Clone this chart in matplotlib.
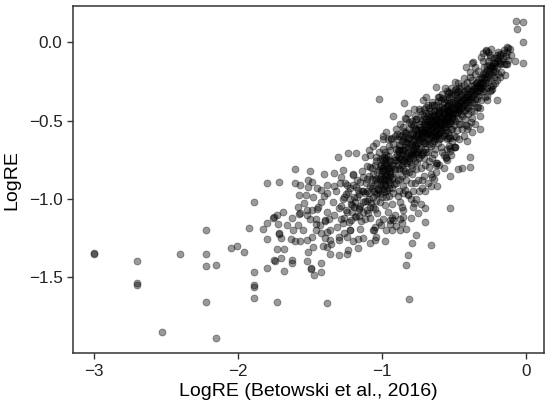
import matplotlib
matplotlib.use("Agg")
import matplotlib.pyplot as plt
import numpy as np

plt.rcParams['font.family'] = ['Liberation Sans', 'DejaVu Sans']

# sparse points on the far left (read one by one)
tail = [(-3.00, -1.345), (-3.00, -1.352), (-2.70, -1.394), (-2.70, -1.538), (-2.70, -1.550),
        (-2.526, -1.851), (-2.40, -1.349), (-2.222, -1.198), (-2.222, -1.349), (-2.222, -1.428),
        (-2.222, -1.655), (-2.155, -1.421), (-2.155, -1.889), (-2.049, -1.313), (-2.003, -1.300),
        (-1.958, -1.336), (-1.924, -1.187), (-1.887, -1.017), (-1.887, -1.468), (-1.887, -1.549),
        (-1.887, -1.560), (-1.887, -1.634), (-1.824, -1.193), (-1.801, -0.896), (-1.799, -1.151),
        (-1.799, -1.257), (-1.799, -1.442), (-1.750, -1.117), (-1.750, -1.389), (-1.727, -1.659),
        (-1.713, -0.890)]

# left half of the cloud
mid = [(-1.303, -0.730), (-1.232, -0.705), (-1.176, -0.705), (-1.118, -0.730), (-1.604, -0.809),
       (-1.500, -0.819), (-1.604, -0.900), (-1.565, -0.911), (-1.510, -0.879), (-1.488, -0.893),
       (-1.510, -0.921), (-1.401, -0.842), (-1.331, -0.836), (-1.572, -0.975), (-1.528, -0.975),
       (-1.542, -1.024), (-1.419, -0.943), (-1.384, -0.911), (-1.384, -0.964), (-1.424, -1.017),
       (-1.685, -1.085), (-1.727, -1.102), (-1.755, -1.119), (-1.720, -1.160), (-1.623, -1.119),
       (-1.658, -1.166), (-1.572, -1.098), (-1.568, -1.092), (-1.581, -1.166), (-1.620, -1.198),
       (-1.717, -1.217), (-1.712, -1.225), (-1.701, -1.251), (-1.634, -1.257), (-1.604, -1.268),
       (-1.565, -1.266), (-1.523, -1.262), (-1.488, -1.244), (-1.523, -1.070), (-1.488, -1.070),
       (-1.449, -1.066), (-1.500, -1.130), (-1.458, -1.130), (-1.458, -1.198), (-1.396, -1.138),
       (-1.392, -1.132), (-1.431, -1.166), (-1.384, -1.209), (-1.361, -1.262), (-1.396, -1.251),
       (-1.384, -1.304), (-1.481, -1.304), (-1.512, -1.336), (-1.361, -1.353), (-1.297, -1.359),
       (-1.245, -1.353), (-1.234, -1.326), (-1.297, -1.262), (-1.245, -1.241), (-1.222, -1.198),
       (-1.165, -1.257), (-1.165, -1.315), (-1.727, -1.319), (-1.681, -1.319), (-1.745, -1.396),
       (-1.703, -1.378), (-1.623, -1.389), (-1.623, -1.407), (-1.523, -1.396), (-1.424, -1.407),
       (-1.681, -1.460), (-1.493, -1.447), (-1.490, -1.440), (-1.472, -1.485), (-1.424, -1.468),
       (-1.380, -1.666), (-1.27, -0.815), (-1.20, -0.847), (-1.257, -0.90), (-1.176, -0.921),
       (-1.13, -0.858), (-1.083, -0.794), (-1.037, -0.730)]

# isolated points around the band
edge = [(-0.069, 0.138), (-0.018, 0.132), (-0.058, 0.083), (-0.018, 0.004), (-0.127, -0.032),
        (-0.122, -0.036), (-0.074, -0.117), (-0.017, -0.134), (-0.130, -0.138), (-0.197, -0.368),
        (-1.021, -0.362), (-0.845, -0.389), (-0.922, -0.470), (-0.389, -0.730), (-0.442, -0.804),
        (-0.389, -0.794), (-0.528, -0.851), (-0.528, -1.059), (-0.655, -1.294), (-0.817, -1.357),
        (-0.813, -1.638), (-0.701, -1.145), (-0.697, -1.059), (-0.760, -1.230), (-0.787, -1.279),
        (-0.278, -0.054), (-0.308, -0.092), (-0.245, -0.092), (-0.370, -0.134), (-0.181, -0.130),
        (-0.139, -0.138), (-0.192, -0.204), (-0.232, -0.300), (-0.829, -0.491), (-0.773, -0.428),
        (-0.741, -0.428), (-0.708, -0.428), (-0.690, -0.351), (-0.764, -0.491), (-0.602, -0.347),
        (-0.540, -0.325), (-0.319, -0.421), (-0.269, -0.368), (-0.412, -0.528), (-0.482, -0.602),
        (-0.500, -0.666), (-0.528, -0.676), (-0.556, -0.740), (-0.616, -0.772), (-0.616, -0.917),
        (-0.655, -0.917), (-0.720, -0.932), (-0.648, -0.858), (-0.674, -0.798), (-0.625, -0.768),
        (-0.551, -0.734), (-0.528, -0.694), (-0.470, -0.811), (-0.817, -0.974), (-0.778, -1.027),
        (-0.748, -1.091), (-0.852, -1.113), (-0.922, -1.134), (-0.859, -1.151), (-0.991, -0.619),
        (-0.933, -0.619), (-0.968, -0.571), (-0.482, -0.298), (-0.829, -1.421), (-0.875, -1.198),
        (-0.852, -0.964), (-1.002, -1.166), (-0.940, -1.134), (-1.056, -1.198), (-1.049, -1.262),
        (-0.713, -0.368), (-0.62, -0.283), (-0.563, -0.294), (-0.493, -0.251), (-0.412, -0.156),
        (-0.366, -0.124), (-0.30, -0.07), (-0.274, -0.049), (-0.25, -0.081), (-0.146, -0.209),
        (-0.239, -0.304), (-0.40, -0.534), (-0.493, -0.666), (-0.528, -0.613)]

# dense band, x from -1.6 to -0.1
band = [(-1.34, -1.02), (-1.33, -1.10), (-1.32, -0.95), (-1.31, -1.18), (-1.30, -1.06), (-1.29, -0.90),
        (-1.28, -1.13), (-1.27, -1.00), (-1.26, -1.22), (-1.25, -0.97), (-1.24, -1.08), (-1.23, -1.15),
        (-1.22, -0.93), (-1.21, -1.04), (-1.20, -1.27), (-1.19, -0.99), (-1.18, -1.11), (-1.17, -0.88),
        (-1.16, -1.06), (-1.15, -1.19), (-1.14, -0.95), (-1.13, -1.02), (-1.12, -1.13), (-1.11, -0.90),
        (-1.10, -1.07), (-1.36, -1.20), (-1.38, -1.08), (-1.40, -0.98), (-1.42, -1.22), (-1.44, -1.05),
        (-1.46, -1.16), (-1.48, -0.99), (-1.35, -1.29), (-1.30, -1.24), (-1.26, -1.12), (-1.22, -1.20),
        (-1.19, -1.05), (-1.16, -0.97), (-1.13, -1.25), (-1.28, -0.86), (-1.24, -0.91), (-1.20, -0.84),
        (-1.14, -0.82), (-1.33, -0.92), (-1.37, -1.13), (-1.41, -1.30), (-1.45, -0.93), (-1.52, -1.10),
        (-1.55, -1.20), (-1.58, -1.05),
        (-1.09, -0.85), (-1.09, -1.00), (-1.08, -0.72), (-1.08, -1.12), (-1.07, -0.93), (-1.07, -0.80),
        (-1.06, -1.05), (-1.06, -0.66), (-1.05, -0.88), (-1.05, -1.18), (-1.04, -0.97), (-1.04, -0.76),
        (-1.03, -1.09), (-1.03, -0.83), (-1.02, -0.70), (-1.02, -0.94), (-1.01, -1.02), (-1.01, -0.79),
        (-1.00, -0.87), (-1.00, -0.74), (-1.00, -0.99), (-0.99, -0.82), (-0.99, -1.13), (-0.99, -0.68),
        (-0.98, -0.91), (-0.98, -0.77), (-0.98, -1.04), (-0.97, -0.85), (-0.97, -0.95), (-0.97, -0.72),
        (-0.96, -0.80), (-0.96, -1.08), (-0.96, -0.62), (-0.95, -0.89), (-0.95, -0.75), (-0.95, -0.98),
        (-0.94, -0.83), (-0.94, -1.16), (-0.94, -0.69), (-0.93, -0.93), (-0.93, -0.78), (-0.93, -1.03),
        (-0.92, -0.86), (-0.92, -0.65), (-0.92, -0.96), (-0.91, -0.73), (-0.91, -1.10), (-0.91, -0.81),
        (-0.90, -0.90), (-0.90, -0.68), (-1.00, -0.80), (-0.99, -0.90), (-0.98, -0.84), (-0.97, -0.78),
        (-0.96, -0.88), (-0.95, -0.82), (-0.99, -0.75), (-1.01, -0.92), (-0.97, -0.99), (-0.94, -0.76),
        (-1.03, -0.96), (-1.05, -0.78), (-1.07, -0.87), (-1.02, -0.87), (-0.98, -0.70), (-0.95, -0.93),
        (-1.04, -1.01), (-1.06, -0.92), (-1.08, -1.05), (-1.10, -0.95), (-1.10, -0.79), (-1.09, -0.69),
        (-1.06, -1.20), (-1.02, -1.15), (-0.97, -1.20), (-0.93, -1.12), (-1.04, -0.64), (-0.99, -0.60),
        (-0.95, -0.66), (-0.91, -0.60),
        (-0.89, -0.76), (-0.89, -0.88), (-0.89, -0.62), (-0.88, -0.70), (-0.88, -0.95), (-0.88, -0.81),
        (-0.87, -0.66), (-0.87, -0.74), (-0.87, -1.02), (-0.86, -0.85), (-0.86, -0.59), (-0.86, -0.78),
        (-0.85, -0.69), (-0.85, -0.92), (-0.85, -0.54), (-0.84, -0.73), (-0.84, -0.82), (-0.84, -0.63),
        (-0.83, -0.77), (-0.83, -0.88), (-0.83, -0.57), (-0.82, -0.67), (-0.82, -0.97), (-0.82, -0.74),
        (-0.81, -0.61), (-0.81, -0.83), (-0.81, -0.70), (-0.80, -0.52), (-0.80, -0.78), (-0.80, -0.65),
        (-0.80, -0.90), (-0.79, -0.72), (-0.79, -0.58), (-0.79, -0.84), (-0.78, -0.63), (-0.78, -0.69),
        (-0.78, -0.95), (-0.77, -0.55), (-0.77, -0.76), (-0.77, -0.66), (-0.76, -0.81), (-0.76, -0.60),
        (-0.76, -0.49), (-0.75, -0.70), (-0.75, -0.64), (-0.75, -0.88), (-0.74, -0.57), (-0.74, -0.74),
        (-0.74, -0.52), (-0.73, -0.67), (-0.73, -0.80), (-0.73, -0.61), (-0.72, -0.55), (-0.72, -0.71),
        (-0.72, -0.46), (-0.71, -0.64), (-0.71, -0.58), (-0.71, -0.85), (-0.70, -0.68), (-0.70, -0.51),
        (-0.88, -0.73), (-0.86, -0.69), (-0.84, -0.67), (-0.83, -0.71), (-0.82, -0.62), (-0.81, -0.76),
        (-0.79, -0.66), (-0.78, -0.59), (-0.77, -0.71), (-0.76, -0.65), (-0.75, -0.56), (-0.74, -0.62),
        (-0.73, -0.56), (-0.72, -0.63), (-0.71, -0.52), (-0.70, -0.60), (-0.87, -0.80), (-0.85, -0.76),
        (-0.83, -0.64), (-0.80, -0.71), (-0.78, -0.74), (-0.76, -0.70), (-0.74, -0.68), (-0.72, -0.59),
        (-0.70, -0.56), (-0.89, -0.69), (-0.86, -0.63), (-0.84, -0.58), (-0.81, -0.55), (-0.79, -0.50),
        (-0.77, -0.61), (-0.75, -0.60), (-0.73, -0.50), (-0.71, -0.47), (-0.89, -0.98), (-0.86, -1.05),
        (-0.84, -0.94), (-0.80, -1.00), (-0.77, -0.90), (-0.74, -0.95), (-0.72, -0.88), (-0.90, -0.55),
        (-0.87, -0.52), (-0.84, -0.48), (-0.82, -0.45), (-0.88, -0.60), (-0.85, -0.62), (-0.78, -0.54),
        (-0.76, -0.55), (-0.73, -0.72), (-0.71, -0.74), (-0.70, -0.78),
        (-0.69, -0.54), (-0.69, -0.63), (-0.69, -0.45), (-0.68, -0.58), (-0.68, -0.70), (-0.68, -0.50),
        (-0.67, -0.61), (-0.67, -0.53), (-0.67, -0.42), (-0.66, -0.56), (-0.66, -0.66), (-0.66, -0.48),
        (-0.65, -0.59), (-0.65, -0.51), (-0.65, -0.74), (-0.64, -0.54), (-0.64, -0.44), (-0.64, -0.63),
        (-0.63, -0.57), (-0.63, -0.49), (-0.63, -0.68), (-0.62, -0.52), (-0.62, -0.40), (-0.62, -0.60),
        (-0.61, -0.55), (-0.61, -0.46), (-0.61, -0.64), (-0.60, -0.50), (-0.60, -0.58), (-0.60, -0.43),
        (-0.59, -0.53), (-0.59, -0.37), (-0.59, -0.61), (-0.58, -0.47), (-0.58, -0.56), (-0.58, -0.70),
        (-0.57, -0.50), (-0.57, -0.42), (-0.57, -0.59), (-0.56, -0.45), (-0.56, -0.54), (-0.56, -0.36),
        (-0.55, -0.48), (-0.55, -0.62), (-0.55, -0.41), (-0.54, -0.52), (-0.54, -0.44), (-0.54, -0.57),
        (-0.53, -0.39), (-0.53, -0.47), (-0.53, -0.66), (-0.52, -0.50), (-0.52, -0.42), (-0.52, -0.33),
        (-0.51, -0.46), (-0.51, -0.55), (-0.51, -0.38), (-0.50, -0.43), (-0.50, -0.49), (-0.50, -0.60),
        (-0.69, -0.58), (-0.68, -0.47), (-0.67, -0.57), (-0.66, -0.52), (-0.65, -0.47), (-0.64, -0.58),
        (-0.63, -0.53), (-0.62, -0.56), (-0.61, -0.50), (-0.60, -0.54), (-0.59, -0.48), (-0.58, -0.52),
        (-0.57, -0.46), (-0.56, -0.50), (-0.55, -0.44), (-0.54, -0.48), (-0.53, -0.43), (-0.52, -0.46),
        (-0.51, -0.42), (-0.50, -0.39), (-0.69, -0.49), (-0.67, -0.46), (-0.66, -0.44), (-0.64, -0.40),
        (-0.63, -0.44), (-0.62, -0.47), (-0.60, -0.46), (-0.59, -0.44), (-0.58, -0.41), (-0.57, -0.38),
        (-0.55, -0.37), (-0.54, -0.40), (-0.53, -0.35), (-0.51, -0.34), (-0.68, -0.62), (-0.66, -0.60),
        (-0.65, -0.64), (-0.63, -0.62), (-0.61, -0.59), (-0.60, -0.62), (-0.58, -0.60), (-0.56, -0.58),
        (-0.54, -0.61), (-0.52, -0.55), (-0.50, -0.53), (-0.69, -0.70), (-0.67, -0.76), (-0.64, -0.71),
        (-0.62, -0.78), (-0.59, -0.67), (-0.57, -0.72), (-0.55, -0.68), (-0.53, -0.60), (-0.51, -0.63),
        (-0.68, -0.40), (-0.65, -0.38), (-0.61, -0.35), (-0.58, -0.33), (-0.55, -0.31), (-0.52, -0.29),
        (-0.66, -0.55), (-0.64, -0.50), (-0.62, -0.49), (-0.60, -0.41), (-0.57, -0.54), (-0.55, -0.52),
        (-0.53, -0.50), (-0.51, -0.48),
        (-0.49, -0.41), (-0.49, -0.50), (-0.49, -0.33), (-0.48, -0.45), (-0.48, -0.37), (-0.48, -0.56),
        (-0.47, -0.40), (-0.47, -0.31), (-0.47, -0.48), (-0.46, -0.43), (-0.46, -0.35), (-0.46, -0.52),
        (-0.45, -0.38), (-0.45, -0.28), (-0.45, -0.46), (-0.44, -0.41), (-0.44, -0.33), (-0.44, -0.55),
        (-0.43, -0.36), (-0.43, -0.44), (-0.43, -0.27), (-0.42, -0.39), (-0.42, -0.31), (-0.42, -0.49),
        (-0.41, -0.35), (-0.41, -0.42), (-0.41, -0.25), (-0.40, -0.37), (-0.40, -0.30), (-0.40, -0.46),
        (-0.39, -0.33), (-0.39, -0.40), (-0.39, -0.22), (-0.38, -0.35), (-0.38, -0.28), (-0.38, -0.51),
        (-0.37, -0.31), (-0.37, -0.38), (-0.37, -0.24), (-0.36, -0.33), (-0.36, -0.27), (-0.36, -0.44),
        (-0.35, -0.29), (-0.35, -0.36), (-0.35, -0.20), (-0.34, -0.31), (-0.34, -0.25), (-0.34, -0.41),
        (-0.33, -0.28), (-0.33, -0.34), (-0.33, -0.18), (-0.32, -0.26), (-0.32, -0.32), (-0.32, -0.47),
        (-0.31, -0.23), (-0.31, -0.29), (-0.31, -0.37), (-0.30, -0.25), (-0.30, -0.20), (-0.30, -0.31),
        (-0.49, -0.45), (-0.48, -0.40), (-0.47, -0.44), (-0.46, -0.38), (-0.45, -0.42), (-0.44, -0.37),
        (-0.43, -0.40), (-0.42, -0.35), (-0.41, -0.38), (-0.40, -0.33), (-0.39, -0.36), (-0.38, -0.31),
        (-0.37, -0.34), (-0.36, -0.30), (-0.35, -0.32), (-0.34, -0.28), (-0.33, -0.31), (-0.32, -0.29),
        (-0.31, -0.26), (-0.30, -0.28), (-0.48, -0.32), (-0.46, -0.29), (-0.44, -0.47), (-0.42, -0.43),
        (-0.40, -0.41), (-0.38, -0.44), (-0.36, -0.39), (-0.34, -0.36), (-0.45, -0.52), (-0.41, -0.55),
        (-0.37, -0.48), (-0.33, -0.41), (-0.47, -0.26), (-0.43, -0.23), (-0.39, -0.19), (-0.35, -0.16),
        (-0.29, -0.23), (-0.29, -0.30), (-0.28, -0.19), (-0.28, -0.26), (-0.28, -0.35), (-0.27, -0.22),
        (-0.27, -0.15), (-0.27, -0.29), (-0.26, -0.20), (-0.26, -0.25), (-0.26, -0.12), (-0.25, -0.18),
        (-0.25, -0.23), (-0.25, -0.31), (-0.24, -0.16), (-0.24, -0.21), (-0.23, -0.13), (-0.23, -0.19),
        (-0.23, -0.27), (-0.22, -0.15), (-0.22, -0.10), (-0.22, -0.22), (-0.21, -0.13), (-0.21, -0.18),
        (-0.20, -0.08), (-0.20, -0.16), (-0.20, -0.24), (-0.19, -0.11), (-0.19, -0.06), (-0.18, -0.14),
        (-0.18, -0.09), (-0.17, -0.12), (-0.17, -0.19), (-0.16, -0.07), (-0.16, -0.10), (-0.15, -0.05),
        (-0.15, -0.14), (-0.14, -0.09), (-0.13, -0.06), (-0.12, -0.11), (-0.11, -0.04), (-0.10, -0.08),
        (-0.26, -0.06), (-0.24, -0.04), (-0.30, -0.12), (-0.29, -0.16), (-0.21, -0.26), (-0.18, -0.22),
        (-0.24, -0.28), (-0.27, -0.34)]

# more points in the darkest part of the band
core = [(-1.235, -0.955), (-1.212, -1.032), (-1.198, -0.912), (-1.187, -1.118), (-1.173, -0.986),
        (-1.161, -1.064), (-1.152, -0.893), (-1.143, -1.142), (-1.128, -0.946), (-1.117, -1.013),
        (-1.105, -0.874), (-1.097, -1.087), (-1.086, -0.962), (-1.074, -1.024), (-1.063, -0.838),
        (-1.052, -0.951), (-1.044, -1.066), (-1.033, -0.897), (-1.021, -0.812), (-1.013, -0.968),
        (-1.006, -0.853), (-0.994, -0.936), (-0.985, -0.792), (-0.976, -0.881), (-0.964, -0.944),
        (-0.957, -0.727), (-0.948, -0.857), (-0.936, -0.804), (-0.927, -0.871), (-0.918, -0.752),
        (-0.906, -0.836), (-0.897, -0.714), (-0.886, -0.783), (-0.877, -0.655), (-0.865, -0.742),
        (-0.856, -0.811), (-0.847, -0.686), (-0.838, -0.602), (-0.826, -0.725), (-0.817, -0.648),
        (-0.806, -0.583), (-0.797, -0.694), (-0.788, -0.618), (-0.776, -0.527), (-0.768, -0.655),
        (-0.757, -0.583), (-0.746, -0.712), (-0.737, -0.538), (-0.726, -0.604), (-0.717, -0.492),
        (-0.706, -0.566), (-0.697, -0.642), (-0.688, -0.522), (-0.676, -0.588), (-0.667, -0.483),
        (-0.656, -0.541), (-0.647, -0.612), (-0.638, -0.463), (-0.626, -0.525), (-0.617, -0.578),
        (-0.606, -0.442), (-0.597, -0.506), (-0.586, -0.547), (-0.577, -0.424), (-0.566, -0.483),
        (-0.557, -0.562), (-0.546, -0.407), (-0.537, -0.462), (-0.526, -0.518), (-0.516, -0.392),
        (-0.505, -0.448), (-0.494, -0.372), (-0.484, -0.426), (-0.474, -0.357), (-0.463, -0.404),
        (-0.452, -0.336), (-0.442, -0.385), (-0.432, -0.318), (-0.421, -0.366), (-0.411, -0.298),
        (-0.402, -0.347), (-0.915, -0.905), (-0.873, -0.872), (-0.834, -0.836), (-0.792, -0.802),
        (-0.753, -0.765), (-0.713, -0.702), (-0.672, -0.652), (-0.633, -0.596), (-0.592, -0.572),
        (-0.553, -0.512), (-0.512, -0.478), (-0.472, -0.428), (-0.935, -0.612), (-0.893, -0.586),
        (-0.853, -0.566), (-0.813, -0.511), (-0.772, -0.472), (-0.732, -0.441), (-0.692, -0.412),
        (-0.652, -0.397), (-0.612, -0.372), (-0.572, -0.356), (-0.532, -0.318), (-0.492, -0.302),
        (-0.663, -0.503), (-0.642, -0.532), (-0.621, -0.487), (-0.602, -0.522), (-0.582, -0.476),
        (-0.561, -0.491), (-0.542, -0.452), (-0.523, -0.436), (-0.703, -0.532), (-0.682, -0.562),
        (-0.722, -0.581), (-0.742, -0.624), (-0.762, -0.676), (-0.783, -0.708), (-0.803, -0.738),
        (-0.822, -0.771), (-0.843, -0.756), (-0.862, -0.712), (-0.881, -0.688), (-0.902, -0.752),
        (-0.923, -0.792), (-0.943, -0.846), (-0.963, -0.838), (-0.983, -0.866), (-1.003, -0.912),
        (-1.023, -0.936), (-1.043, -0.874), (-1.064, -0.987), (-1.084, -0.916), (-1.104, -1.012),
        (-1.012, -0.742), (-1.004, -0.781), (-0.996, -0.823), (-0.988, -0.958), (-0.979, -0.905),
        (-0.971, -0.746), (-0.962, -0.772), (-0.953, -0.803), (-0.944, -0.902), (-0.986, -0.732),
        (-1.015, -0.868), (-0.975, -0.812), (-1.285, -1.045), (-1.262, -0.985), (-1.247, -1.068),
        (-1.223, -1.003), (-1.205, -1.084), (-1.183, -1.022), (-1.166, -0.942), (-1.148, -1.043),
        (-1.132, -1.082), (-1.115, -0.962), (-1.271, -1.152), (-1.214, -1.131), (-1.158, -1.108),
        (-0.345, -0.262), (-0.322, -0.236), (-0.303, -0.218), (-0.285, -0.205), (-0.266, -0.178),
        (-0.248, -0.162), (-0.232, -0.148), (-0.214, -0.124), (-0.196, -0.097), (-0.178, -0.074),
        (-0.315, -0.272), (-0.275, -0.238), (-0.255, -0.142), (-0.226, -0.172)]

# scattered points just below the band
below = [(-1.08, -1.28), (-1.04, -1.24), (-0.98, -1.27), (-0.93, -1.20), (-0.90, -1.17), (-0.87, -1.13),
         (-0.85, -1.07), (-0.83, -1.19), (-0.80, -1.12), (-0.78, -1.05), (-0.76, -1.00), (-0.73, -1.03),
         (-0.70, -0.95), (-0.68, -0.90), (-0.66, -0.84), (-0.64, -0.87), (-0.62, -0.83), (-0.60, -0.78),
         (-0.57, -0.80), (-0.55, -0.75), (-0.52, -0.72), (-0.49, -0.67), (-0.46, -0.62), (-0.43, -0.60),
         (-0.41, -0.63), (-0.37, -0.57), (-0.35, -0.52), (-0.32, -0.55)]

x_ticks = [-3, -2, -1, 0]
y_ticks = [0.0, -0.5, -1.0, -1.5]

pts = np.array(tail + mid + edge + band + core + below)

fig = plt.figure(figsize=(5.5, 4.09), dpi=100)
ax = fig.add_axes([0.1327, 0.1362, 0.8563, 0.8491])

ax.scatter(pts[:, 0], pts[:, 1], s=25, c='black', alpha=0.4,
           edgecolors='black', linewidths=0.6)

ax.set_xlim(-3.146, 0.127)
ax.set_ylim(-1.985, 0.232)
ax.set_xticks(x_ticks)
ax.set_xticklabels(['\u22123', '\u22122', '\u22121', '0'])
ax.set_yticks(y_ticks)
ax.set_yticklabels(['0.0', '\u22120.5', '\u22121.0', '\u22121.5'])
ax.tick_params(labelsize=12.3, labelcolor='#222222', color='#333333', length=4, width=1)
for sp in ax.spines.values():
    sp.set_color('#333333')
    sp.set_linewidth(1.1)

ax.set_xlabel('LogRE (Betowski et al., 2016)', fontsize=14, labelpad=3)
ax.set_ylabel('LogRE', fontsize=14, labelpad=6)

fig.savefig('out.png', dpi=100)
